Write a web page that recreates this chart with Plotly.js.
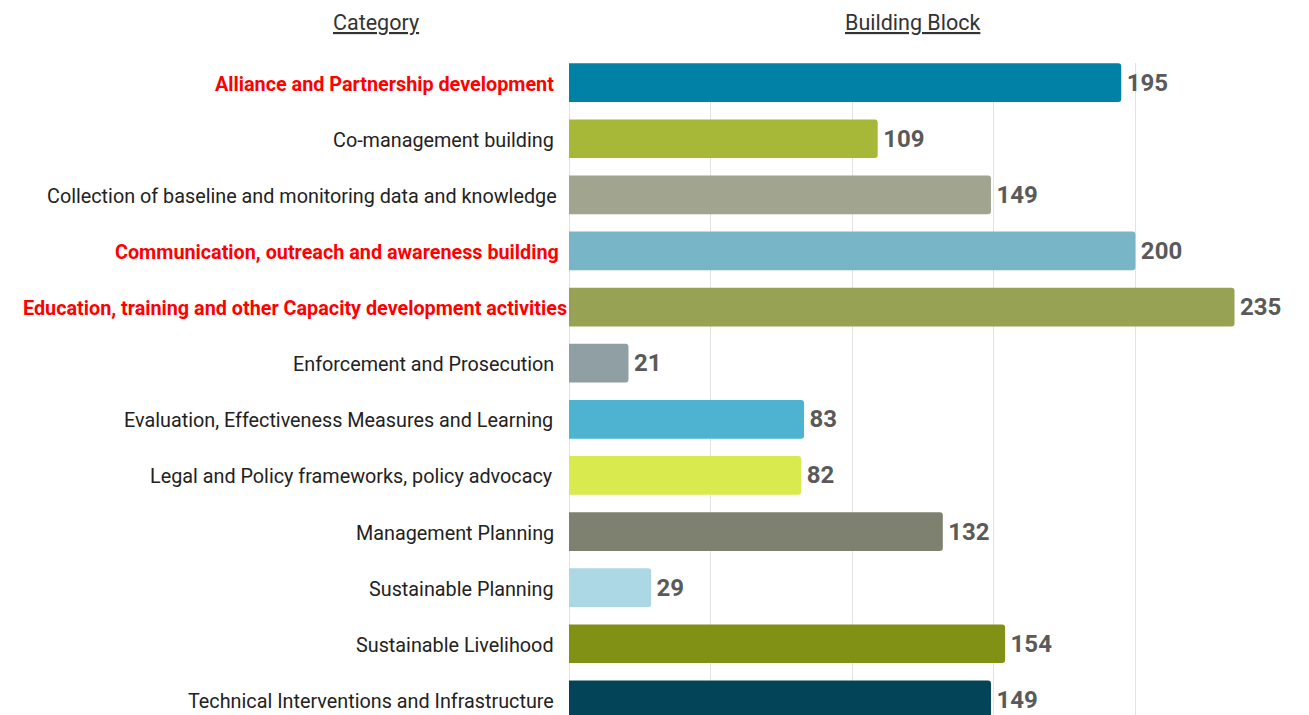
<!DOCTYPE html>
<html>
<head>
<meta charset="utf-8">
<script src="https://cdn.plot.ly/plotly-3.0.1.min.js"></script>
<style>
  html, body { margin: 0; padding: 0; background: #fff; }
  #chart { width: 1309px; height: 715px; }
</style>
</head>
<body>
<div id="chart"></div>
<script>
const categories = [
  "Alliance and Partnership development",
  "Co-management building",
  "Collection of baseline and monitoring data and knowledge",
  "Communication, outreach and awareness building",
  "Education, training and other Capacity development activities",
  "Enforcement and Prosecution",
  "Evaluation, Effectiveness Measures and Learning",
  "Legal and Policy frameworks, policy advocacy",
  "Management Planning",
  "Sustainable Planning",
  "Sustainable Livelihood",
  "Technical Interventions and Infrastructure"
];
const values = [195, 109, 149, 200, 235, 21, 83, 82, 132, 29, 154, 149];
const highlighted = [true, false, false, true, true, false, false, false, false, false, false, false];
const barColors = [
  "#0181a6", "#a7b838", "#a1a590", "#78b5c6", "#97a255", "#8f9fa3",
  "#4eb3d1", "#d8ea4e", "#7e816f", "#acd7e4", "#809115", "#044458"
];
const xTicks = [0, 50, 100, 150, 200, 250];

const W = 1309, H = 715;
const L = 569, R = 32, T = 63, B = 0;
const plotW = W - L - R, plotH = H - T - B;

// label right-edge offsets (px, relative to the axis) as seen in the reference
const labelShift = [-13, -13, -10, -8, 0, -13, -14, -14, -13, -13, -13, -13];

const trace = {
  type: "bar",
  orientation: "h",
  y: categories.map((c, i) => i),
  x: values,
  marker: { color: barColors, cornerradius: 3 },
  width: 0.69,
  texttemplate: "\u200A<b>%{x}</b>",
  textposition: "outside",
  cliponaxis: false,
  textfont: { family: "Roboto", size: 24, color: "#5a5a5a" },
  hoverinfo: "none"
};

const labelAnns = categories.map((c, i) => ({
  text: highlighted[i] ? "<b>" + c + "</b>" : c,
  xref: "paper", yref: "y",
  x: 0, y: i,
  xanchor: "right", yanchor: "middle",
  xshift: labelShift[i], yshift: -1.5,
  showarrow: false,
  font: { family: "Roboto", size: 19.8, color: highlighted[i] ? "#ff0000" : "#222222" }
}));

const layout = {
  width: W, height: H,
  margin: { l: L, r: R, t: T, b: B, pad: 0 },
  paper_bgcolor: "#ffffff",
  plot_bgcolor: "#ffffff",
  showlegend: false,
  font: { family: "Roboto", color: "#222222" },
  xaxis: {
    range: [0, 250],
    tickvals: xTicks,
    showticklabels: false,
    showgrid: true,
    gridcolor: "#e3e3e3",
    gridwidth: 1,
    zeroline: true,
    zerolinecolor: "#e3e3e3",
    zerolinewidth: 1,
    showline: false,
    fixedrange: true
  },
  yaxis: {
    range: [11.27, -0.35],
    tickvals: categories.map((c, i) => i),
    showticklabels: false,
    ticks: "",
    showgrid: false,
    zeroline: false,
    showline: false,
    fixedrange: true
  },
  annotations: labelAnns.concat([
    {
      text: "<u>Category</u>",
      xref: "paper", yref: "paper",
      x: (376 - L) / plotW, y: 1 + (T - 22) / plotH,
      xanchor: "center", yanchor: "middle",
      showarrow: false,
      font: { family: "Roboto", size: 21.5, color: "#333333" }
    },
    {
      text: "<u>Building Block</u>",
      xref: "paper", yref: "paper",
      x: (912 - L) / plotW, y: 1 + (T - 22) / plotH,
      xanchor: "center", yanchor: "middle",
      showarrow: false,
      font: { family: "Roboto", size: 21.5, color: "#333333" }
    }
  ])
};

Plotly.newPlot("chart", [trace], layout, { displayModeBar: false, staticPlot: true });
</script>
</body>
</html>
